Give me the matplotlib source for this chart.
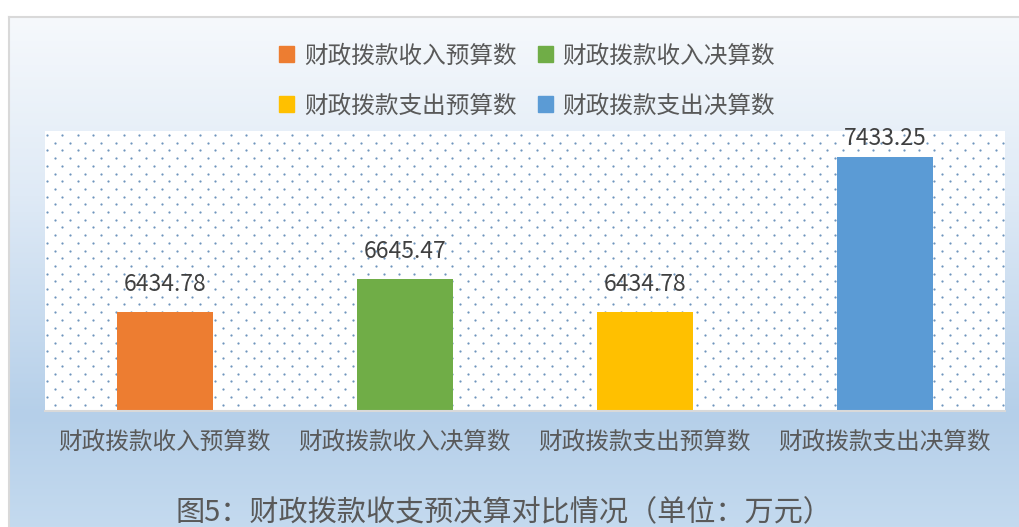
import numpy as np
import matplotlib
matplotlib.use("Agg")
import matplotlib.pyplot as plt
from matplotlib.colors import LinearSegmentedColormap

plt.rcParams['font.family'] = ['Noto Sans CJK SC', 'DejaVu Sans']

# data
categories = ["财政拨款收入预算数", "财政拨款收入决算数", "财政拨款支出预算数", "财政拨款支出决算数"]
values = [6434.78, 6645.47, 6434.78, 7433.25]
colors = ["#ED7D31", "#70AD47", "#FFC000", "#5B9BD5"]
title = "图5：财政拨款收支预决算对比情况（单位：万元）"

W, H = 1019, 527
fig = plt.figure(figsize=(W / 100, H / 100), dpi=100)
fig.patch.set_facecolor("white")

# gradient background panel
bg = fig.add_axes([9 / W, 0, 1 - 9 / W, (H - 17) / H], zorder=0)
cmap = LinearSegmentedColormap.from_list(
    "bg", [(0, "#f6f9fc"), (0.35, "#dfeaf6"), (0.78, "#b5cfe9"), (1, "#c4daef")])
grad = np.linspace(0, 1, 256)[:, None]
bg.imshow(grad, aspect="auto", cmap=cmap, extent=[0, 1, 0, 1], origin="upper")
bg.set_xlim(0, 1)
bg.set_ylim(0, 1)
bg.set_xticks([])
bg.set_yticks([])
for s in ["right", "bottom"]:
    bg.spines[s].set_visible(False)
for s in ["top", "left"]:
    bg.spines[s].set_color("#d9d9d9")
    bg.spines[s].set_linewidth(1.5)

# plot area
ax = fig.add_axes([45 / W, 1 - 411 / H, 960 / W, 280 / H], zorder=1)
ax.set_facecolor("white")

# dotted fill pattern of the plot area
px_w, px_h = 960, 280
rows = np.arange(4, px_h, 7.7)
dx, dy = [], []
for i, r in enumerate(rows):
    start = 2 if i % 2 == 0 else 2 + 7.65
    cols = np.arange(start, px_w, 15.3)
    dx.extend(cols / px_w)
    dy.extend([1 - r / px_h] * len(cols))
ax.scatter(dx, dy, s=2.6, color="#6f95bd", transform=ax.transAxes,
           linewidths=0, zorder=0.5)

x = np.arange(len(categories))
ax.bar(x, values, width=0.4, color=colors, zorder=2)
ax.set_xlim(-0.5, 3.5)
ax.set_ylim(5800, 7600)

for xi, v in zip(x, values):
    off = 12 if v < 7200 else 5
    ax.annotate(f"{v:.2f}", (xi, v), xytext=(0, off), textcoords="offset points",
                ha="center", va="bottom", fontsize=16.5, color="#404040", zorder=3)

ax.set_yticks([])
ax.set_xticks(x)
ax.set_xticklabels(categories, fontsize=17, color="#595959")
ax.tick_params(axis="x", length=0, pad=14)
for s in ["top", "left", "right"]:
    ax.spines[s].set_visible(False)
ax.spines["bottom"].set_color("#d9d9d9")
ax.spines["bottom"].set_linewidth(1.5)
ax.spines["bottom"].set_zorder(3)

# legend filled row by row (matplotlib fills by column)
handles = [plt.Rectangle((0, 0), 1, 1, color=c) for c in colors]
order = [0, 2, 1, 3]
fig.legend([handles[i] for i in order], [categories[i] for i in order],
           ncol=2, loc="center",
           bbox_to_anchor=(527 / W, 1 - 81 / H), frameon=False,
           fontsize=17, labelcolor="#595959", handlelength=0.65,
           handleheight=0.65, handletextpad=0.4, columnspacing=0.9,
           labelspacing=1.15)

fig.text(504 / W, 1 - 513 / H, title, ha="center", va="center",
         fontsize=21, color="#595959")

fig.savefig("out.png", dpi=100)
